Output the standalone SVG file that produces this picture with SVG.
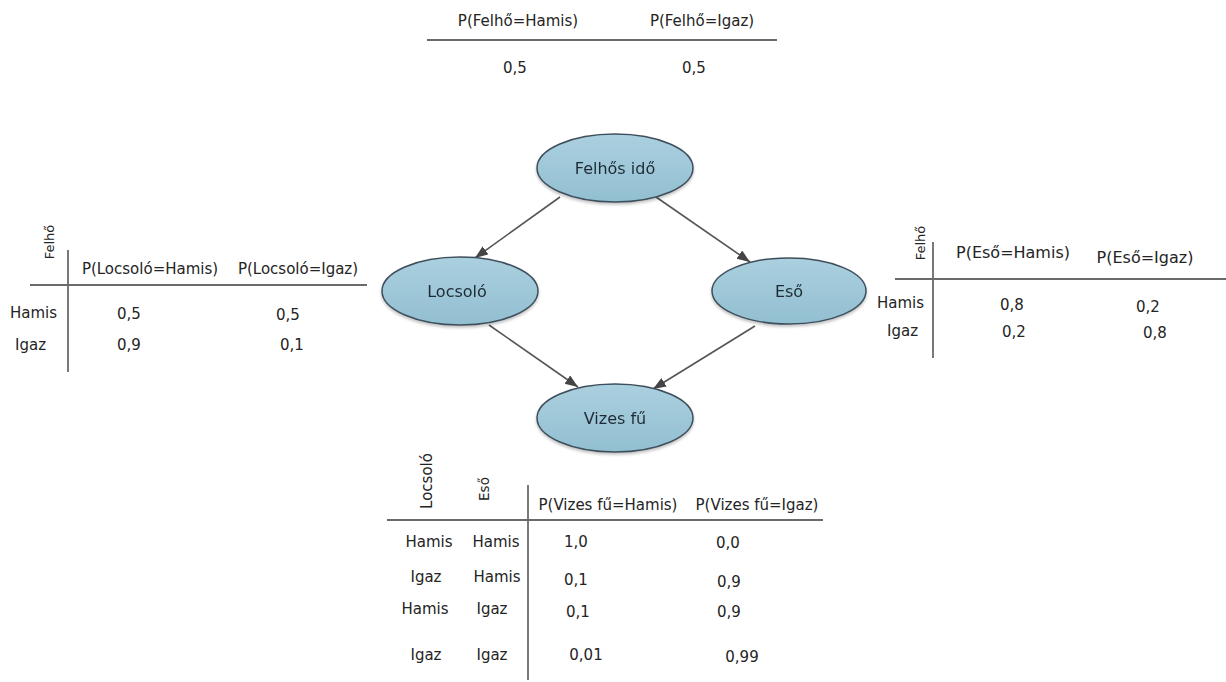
<svg xmlns="http://www.w3.org/2000/svg" width="1226" height="682" viewBox="0 0 1226 682">
<style>
text{font-family:"DejaVu Sans","Liberation Sans",sans-serif;fill:#242424}
.h{font-size:15px}
.hr{font-size:16px}
.v{font-size:15px;text-anchor:middle}
.m{text-anchor:middle}
.rot{font-size:13px;text-anchor:middle}
.rule{stroke:#6a6a6a;stroke-width:1.8;fill:none}
.node ellipse{fill:url(#g);stroke:#3e4f5b;stroke-width:1.5}
.node text{font-size:16px;text-anchor:middle;fill:#1e2b35}
.edge{stroke:#555;stroke-width:1.6;fill:none;marker-end:url(#ah)}
</style>
<defs>
<linearGradient id="g" x1="0" y1="0" x2="0" y2="1">
<stop offset="0" stop-color="#abd0df"/>
<stop offset="1" stop-color="#92bfd1"/>
</linearGradient>
<marker id="ah" markerUnits="userSpaceOnUse" markerWidth="14" markerHeight="12" refX="13" refY="5" orient="auto">
<path d="M0,0 L13,5 L0,10 z" fill="#454545"/>
</marker>
<filter id="sh" x="-10%" y="-10%" width="120%" height="130%">
<feGaussianBlur in="SourceAlpha" stdDeviation="1.5"/>
<feOffset dy="2"/>
<feComponentTransfer><feFuncA type="linear" slope="0.25"/></feComponentTransfer>
<feMerge><feMergeNode/><feMergeNode in="SourceGraphic"/></feMerge>
</filter>
</defs>
<rect width="1226" height="682" fill="#fff"/>

<g id="connectors">
<line class="edge" x1="560" y1="197" x2="475" y2="258"/>
<line class="edge" x1="656" y1="197" x2="750" y2="262"/>
<line class="edge" x1="489" y1="325" x2="578" y2="387"/>
<line class="edge" x1="755" y1="326" x2="653" y2="389"/>
</g>

<g id="node-felhos" class="node" filter="url(#sh)">
<ellipse cx="615" cy="168" rx="78" ry="34"/>
<text x="615" y="174">Felhős idő</text>
</g>
<g id="node-locsolo" class="node" filter="url(#sh)">
<ellipse cx="460" cy="291" rx="78" ry="34"/>
<text x="457" y="297">Locsoló</text>
</g>
<g id="node-eso" class="node" filter="url(#sh)">
<ellipse cx="789" cy="291" rx="77" ry="33"/>
<text x="789" y="297">Eső</text>
</g>
<g id="node-vizes" class="node" filter="url(#sh)">
<ellipse cx="615" cy="418" rx="78" ry="34"/>
<text x="615" y="424">Vizes fű</text>
</g>

<g id="table-felho">
<line class="rule" x1="427" y1="40" x2="777" y2="40"/>
<text class="h m" x="518" y="26">P(Felhő=Hamis)</text>
<text class="h m" x="702" y="26">P(Felhő=Igaz)</text>
<text class="v" x="515" y="73">0,5</text>
<text class="v" x="694" y="73">0,5</text>
</g>

<g id="table-locsolo">
<line class="rule" x1="30" y1="285" x2="367" y2="285"/>
<line class="rule" x1="68" y1="250" x2="68" y2="372"/>
<text class="rot" transform="translate(54,242) rotate(-90)">Felhő</text>
<text class="h m" x="150" y="274">P(Locsoló=Hamis)</text>
<text class="h m" x="298" y="274">P(Locsoló=Igaz)</text>
<text class="h" x="10" y="318">Hamis</text>
<text class="h" x="15" y="350">Igaz</text>
<text class="v" x="129" y="319">0,5</text>
<text class="v" x="288" y="320">0,5</text>
<text class="v" x="129" y="350">0,9</text>
<text class="v" x="292" y="350">0,1</text>
</g>

<g id="table-eso">
<line class="rule" x1="895" y1="279" x2="1226" y2="279"/>
<line class="rule" x1="933" y1="242" x2="933" y2="358"/>
<text class="rot" transform="translate(925,243) rotate(-90)">Felhő</text>
<text class="hr m" x="1013" y="258">P(Eső=Hamis)</text>
<text class="hr m" x="1145" y="263">P(Eső=Igaz)</text>
<text class="h" x="877" y="308">Hamis</text>
<text class="h" x="887" y="336">Igaz</text>
<text class="v" x="1012" y="310">0,8</text>
<text class="v" x="1148" y="312">0,2</text>
<text class="v" x="1014" y="337">0,2</text>
<text class="v" x="1155" y="338">0,8</text>
</g>

<g id="table-vizes">
<line class="rule" x1="387" y1="520" x2="823" y2="520"/>
<line class="rule" x1="528" y1="485" x2="528" y2="680"/>
<text class="h m" transform="translate(432,481) rotate(-90)">Locsoló</text>
<text class="m" style="font-size:13.5px" transform="translate(489,489) rotate(-90)">Eső</text>
<text class="h m" x="608" y="510">P(Vizes fű=Hamis)</text>
<text class="h m" x="757" y="510">P(Vizes fű=Igaz)</text>
<text class="h m" x="429" y="547">Hamis</text>
<text class="h m" x="496" y="547">Hamis</text>
<text class="v" x="576" y="547">1,0</text>
<text class="v" x="728" y="548">0,0</text>
<text class="h m" x="426" y="582">Igaz</text>
<text class="h m" x="497" y="582">Hamis</text>
<text class="v" x="576" y="585">0,1</text>
<text class="v" x="729" y="587">0,9</text>
<text class="h m" x="425" y="614">Hamis</text>
<text class="h m" x="492" y="614">Igaz</text>
<text class="v" x="578" y="617">0,1</text>
<text class="v" x="729" y="617">0,9</text>
<text class="h m" x="426" y="660">Igaz</text>
<text class="h m" x="492" y="660">Igaz</text>
<text class="v" x="586" y="660">0,01</text>
<text class="v" x="742" y="662">0,99</text>
</g>
</svg>
